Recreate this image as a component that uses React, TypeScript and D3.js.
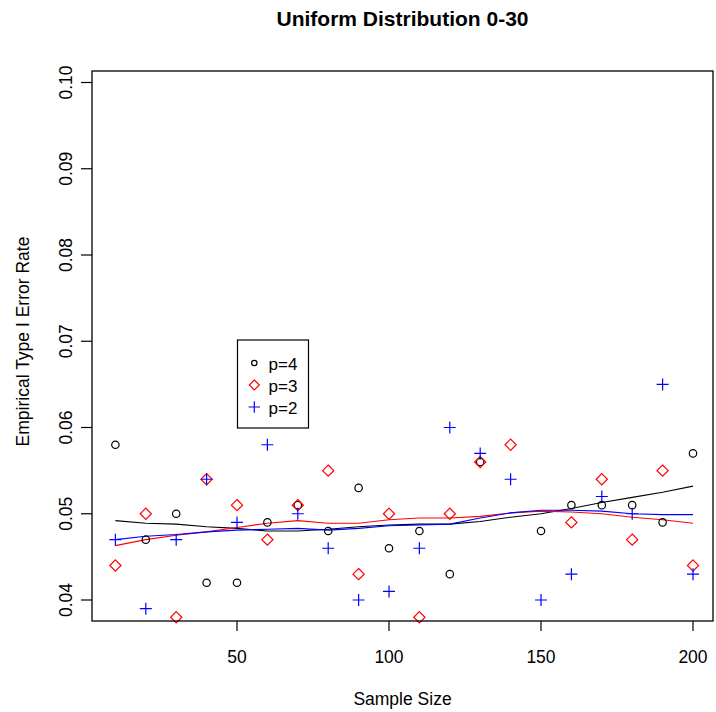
import React from "react";
import * as d3 from "d3";

const sampleSizes = [10, 20, 30, 40, 50, 60, 70, 80, 90, 100, 110, 120, 130, 140, 150, 160, 170, 180, 190, 200];

// points (null = not visible in the reference)
const p4Points: (number | null)[] = [0.058, 0.047, 0.050, 0.042, 0.042, 0.049, 0.051, 0.048, 0.053, 0.046, 0.048, 0.043, 0.056, null, 0.048, 0.051, 0.051, 0.051, 0.049, 0.057];
const p3Points: (number | null)[] = [0.044, 0.050, 0.038, 0.054, 0.051, 0.047, 0.051, 0.055, 0.043, 0.050, 0.038, 0.050, 0.056, 0.058, null, 0.049, 0.054, 0.047, 0.055, 0.044];
const p2Points: (number | null)[] = [0.047, 0.039, 0.047, 0.054, 0.049, 0.058, 0.050, 0.046, 0.040, 0.041, 0.046, 0.060, 0.057, 0.054, 0.040, 0.043, 0.052, 0.050, 0.065, 0.043];

// smoothed curves
const p4Smooth = [0.0492, 0.0489, 0.0488, 0.0485, 0.0483, 0.0480, 0.0480, 0.0482, 0.0485, 0.0487, 0.0488, 0.0488, 0.0491, 0.0496, 0.0500, 0.0506, 0.0513, 0.0519, 0.0525, 0.0532];
const p3Smooth = [0.0463, 0.0470, 0.0475, 0.0479, 0.0484, 0.0489, 0.0492, 0.0489, 0.0489, 0.0493, 0.0495, 0.0495, 0.0497, 0.0501, 0.0503, 0.0502, 0.0500, 0.0496, 0.0493, 0.0489];
const p2Smooth = [0.0470, 0.0474, 0.0476, 0.0479, 0.0481, 0.0482, 0.0483, 0.0481, 0.0483, 0.0486, 0.0487, 0.0488, 0.0495, 0.0501, 0.0504, 0.0504, 0.0503, 0.0500, 0.0499, 0.0499];

const xTicks = [50, 100, 150, 200];
const yTicks = [0.04, 0.05, 0.06, 0.07, 0.08, 0.09, 0.10];
const legendLabels = ["p=4", "p=3", "p=2"];

const FONT = "'Liberation Sans', Arial, Helvetica, sans-serif";

export default function App() {
  const W = 716, H = 712;
  const left = 92, right = 713, top = 71, bottom = 621;
  const x = d3.scaleLinear().domain([50, 200]).range([237, 693]);
  const y = d3.scaleLinear().domain([0.04, 0.1]).range([600, 82.5]);

  const line = d3
    .line<number>()
    .x((_, i) => x(sampleSizes[i]))
    .y((d) => y(d));

  const circle = (cx: number, cy: number, r: number, key: string) => (
    <circle key={key} cx={cx} cy={cy} r={r} fill="none" stroke="#000" strokeWidth={1.2} />
  );
  const diamond = (cx: number, cy: number, s: number, key: string) => (
    <path
      key={key}
      d={`M${cx},${cy - s}L${cx + s},${cy}L${cx},${cy + s}L${cx - s},${cy}Z`}
      fill="none"
      stroke="#ff0000"
      strokeWidth={1.2}
    />
  );
  const plus = (cx: number, cy: number, s: number, key: string) => (
    <path
      key={key}
      d={`M${cx - s},${cy}L${cx + s},${cy}M${cx},${cy - s}L${cx},${cy + s}`}
      fill="none"
      stroke="#0000ff"
      strokeWidth={1.2}
    />
  );

  return (
    <svg width={W} height={H} style={{ position: "absolute", left: 0, top: 0, background: "#fff" }} fontFamily={FONT}>
      <rect x={0} y={0} width={W} height={H} fill="#fff" />
      <text x={(left + right) / 2} y={26} textAnchor="middle" fontSize={21} fontWeight="bold">
        Uniform Distribution 0-30
      </text>

      {/* smooth lines */}
      <path d={line(p4Smooth) || ""} fill="none" stroke="#000" strokeWidth={1.1} />
      <path d={line(p3Smooth) || ""} fill="none" stroke="#ff0000" strokeWidth={1.1} />
      <path d={line(p2Smooth) || ""} fill="none" stroke="#0000ff" strokeWidth={1.1} />

      {/* points */}
      {p4Points.map((v, i) => (v == null ? null : circle(x(sampleSizes[i]), y(v), 3.7, "c" + i)))}
      {p3Points.map((v, i) => (v == null ? null : diamond(x(sampleSizes[i]), y(v), 5.6, "d" + i)))}
      {p2Points.map((v, i) => (v == null ? null : plus(x(sampleSizes[i]), y(v), 6, "p" + i)))}

      {/* box */}
      <rect x={left} y={top} width={right - left} height={bottom - top} fill="none" stroke="#000" strokeWidth={1.3} />

      {/* x axis */}
      {xTicks.map((t) => (
        <g key={"xt" + t}>
          <line x1={x(t)} x2={x(t)} y1={bottom} y2={bottom + 10} stroke="#000" strokeWidth={1.2} />
          <text x={x(t)} y={663} textAnchor="middle" fontSize={17.5}>
            {t}
          </text>
        </g>
      ))}
      <text x={(left + right) / 2} y={705} textAnchor="middle" fontSize={17.5}>
        Sample Size
      </text>

      {/* y axis */}
      {yTicks.map((t) => (
        <g key={"yt" + t}>
          <line x1={left - 11} x2={left} y1={y(t)} y2={y(t)} stroke="#000" strokeWidth={1.2} />
          <text
            transform={`translate(71.5,${y(t)}) rotate(-90)`}
            textAnchor="middle"
            fontSize={17.5}
          >
            {t.toFixed(2)}
          </text>
        </g>
      ))}
      <text transform={`translate(28.5,341.5) rotate(-90)`} textAnchor="middle" fontSize={17.5}>
        Empirical Type I Error Rate
      </text>

      {/* legend */}
      <rect x={237.5} y={340} width={71} height={88} fill="#fff" stroke="#000" strokeWidth={1.2} />
      {legendLabels.map((lab, i) => {
        const cy = 363 + i * 22;
        const cx = 254.3;
        return (
          <g key={"lg" + i}>
            {i === 0 ? circle(cx, cy, 2.7, "lc") : i === 1 ? diamond(cx, cy, 5, "ld") : plus(cx, cy, 5.7, "lp")}
            <text x={268.5} y={cy + 6.5} fontSize={17}>
              {lab}
            </text>
          </g>
        );
      })}
    </svg>
  );
}
